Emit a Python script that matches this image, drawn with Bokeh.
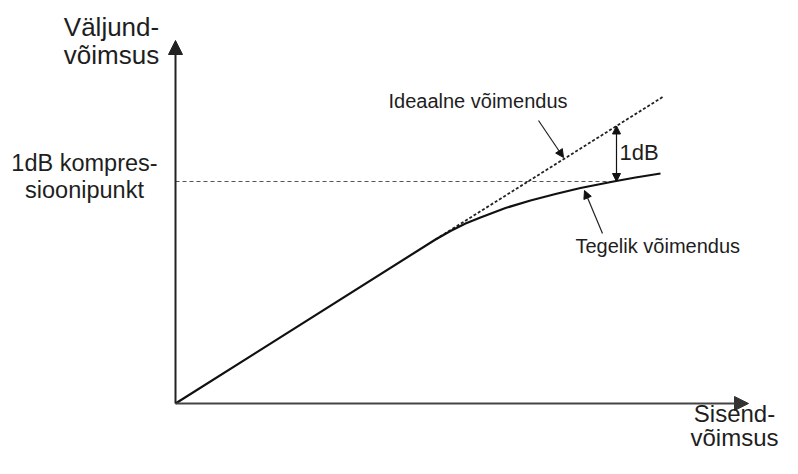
from bokeh.plotting import figure
from bokeh.models import Range1d, Arrow, NormalHead, Label
from bokeh.embed import file_html
from bokeh.resources import INLINE

# Data (arbitrary power units; origin = 0,0)
actual_in = [0, 52.0, 55.0, 58.0, 61.0, 66.0, 71.0, 76.0, 81.0, 87.6, 92.0, 97.0]
actual_out = [0, 32.8, 34.5, 36.0, 37.2, 39.1, 40.6, 41.9, 43.1, 44.4, 45.2, 46.0]
ideal_in = [52.0, 97.6]
ideal_out = [32.8, 61.4]
p1db_in = 87.6
p1db_out = 44.4
axis_x_end = 114.6
axis_y_end = 72.6

FONT = "Liberation Sans"
TXT = "#1e1e1e"

p = figure(width=782, height=458, output_backend="svg", toolbar_location=None,
           x_range=Range1d(-35.0, 121.4), y_range=Range1d(-11.0, 80.6),
           min_border=0, outline_line_color=None)
p.axis.visible = False
p.grid.visible = False
p.background_fill_color = "white"

# axes with arrowheads
p.add_layout(Arrow(end=NormalHead(size=14, fill_color="#333333", line_color="#333333"),
                   x_start=0, y_start=0, x_end=axis_x_end, y_end=0,
                   line_width=2.2, line_color="#444444"))
p.add_layout(Arrow(end=NormalHead(size=14, fill_color="#222222", line_color="#222222"),
                   x_start=0, y_start=0, x_end=0, y_end=axis_y_end,
                   line_width=2, line_color="#222222"))

# 1 dB compression reference line
p.line([0, p1db_in], [p1db_out, p1db_out], line_color="#555555", line_width=1,
       line_dash="4 3")
# ideal gain (dotted)
p.line(ideal_in, ideal_out, line_color="#222222", line_width=1.8, line_dash="3 2")
# actual gain
p.line(actual_in, actual_out, line_color="#111111", line_width=2.2,
       line_join="round")

# 1 dB double arrow
ax = p1db_in + 0.6
ideal_at_p1db = ideal_out[0] + (ideal_out[1] - ideal_out[0]) * (ax - ideal_in[0]) / (ideal_in[1] - ideal_in[0])
p.add_layout(Arrow(start=NormalHead(size=8, fill_color="#111111", line_color="#111111"),
                   end=NormalHead(size=8, fill_color="#111111", line_color="#111111"),
                   x_start=ax, y_start=p1db_out, x_end=ax, y_end=ideal_at_p1db,
                   line_width=1.2, line_color="#111111"))
# pointer arrows
p.add_layout(Arrow(end=NormalHead(size=8, fill_color="#111111", line_color="#111111"),
                   x_start=72.6, y_start=56.6, x_end=77.6, y_end=49.2,
                   line_width=1.2, line_color="#222222"))
p.add_layout(Arrow(end=NormalHead(size=8, fill_color="#111111", line_color="#111111"),
                   x_start=85.4, y_start=34.0, x_end=81.8, y_end=42.6,
                   line_width=1.2, line_color="#222222"))

def lab(x, y, t, size, align="left"):
    # small upward correction so the rendered baseline lands where intended
    p.add_layout(Label(x=x, y=y, text=t, text_font=FONT, text_font_size=f"{size}px",
                       text_color=TXT, text_align=align, text_baseline="alphabetic",
                       y_offset=round(0.33 * size)))

# y axis title
lab(-12.8, 73.6, "Väljund-", 26, "center")
lab(-12.8, 68.0, "võimsus", 26, "center")
# x axis title
lab(111.8, -3.6, "Sisend-", 24, "center")
lab(111.8, -8.4, "võimsus", 24, "center")
# compression point label
lab(-18.2, 46.6, "1dB kompres-", 23.5, "center")
lab(-18.2, 41.2, "sioonipunkt", 23.5, "center")
# annotations
lab(42.6, 59.2, "Ideaalne võimendus", 20)
lab(88.8, 48.8, "1dB", 22)
lab(80.0, 30.2, "Tegelik võimendus", 20)

open("out.html", "w").write(file_html(p, INLINE))
